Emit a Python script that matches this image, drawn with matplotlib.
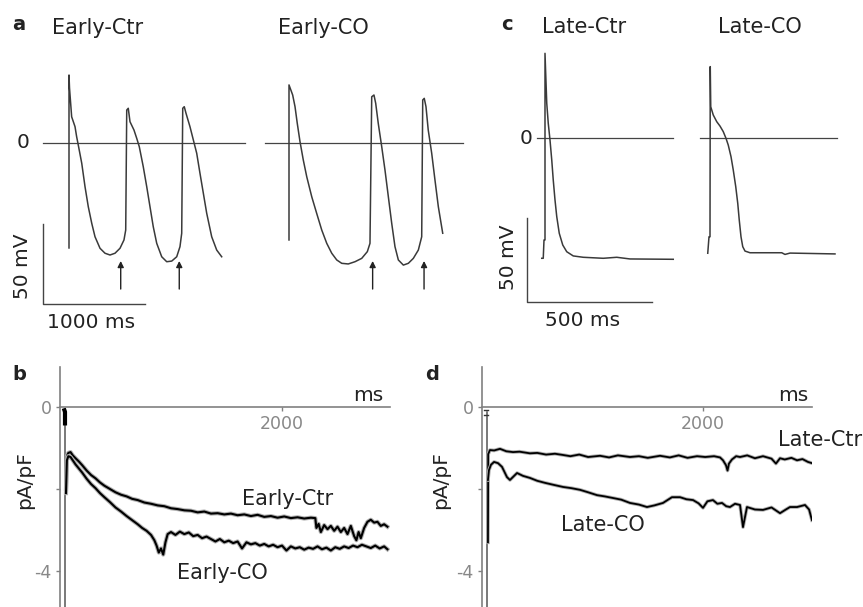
import matplotlib
matplotlib.use('Agg')
import matplotlib.pyplot as plt

W, H = 863, 607

# ---- panel a: action potentials, early (t in ms from upstroke, v in mV)
early_ctr_t = [0, 0, 5, 26, 59, 75, 91, 125, 157, 189, 223, 255, 304, 353, 402, 451, 500, 539, 556,
               566, 581, 598, 637, 664, 689, 728, 762, 794, 826, 860, 909, 958, 1007, 1056, 1088, 1105,
               1115, 1130, 1147, 1186, 1219, 1252, 1284, 1317, 1350, 1399, 1448, 1497]
early_ctr_v = [-65.6, 42.5, 34.4, 16.4, 10.2, 3.9, -1.3, -12.7, -27.3, -39.8, -50.2, -58.6, -65.8, -68.9,
               -70, -68.9, -65.8, -60.6, -54.4, 20.6, 21.7, 13.3, 8.1, 2.9, -2.3, -14.8, -27.3, -39.8,
               -52.3, -62.7, -71.1, -74.2, -73.8, -71.1, -64.8, -56.4, 21.7, 22.7, 18.6, 10.2, 1.9,
               -6.4, -18.9, -31.4, -43.9, -58.6, -66.9, -71.1]
early_co_t = [0, 0, 36, 59, 81, 108, 140, 174, 223, 272, 321, 370, 419, 468, 517, 581, 647, 713, 768,
              794, 811, 833, 850, 875, 909, 941, 974, 1007, 1039, 1072, 1121, 1170, 1219, 1268, 1301,
              1311, 1326, 1343, 1365, 1399, 1431, 1464, 1507]
early_co_v = [-60.6, 36.3, 30, 22.7, 12.3, 0.8, -10.6, -21.1, -33.6, -44.1, -54.4, -62.7, -68.9, -73.1,
              -75.2, -75.6, -74.2, -72.1, -67.9, -62.7, 28.9, 30, 24.8, 12.3, -2.3, -16.9, -33.6, -50.2,
              -64.8, -73.1, -76.3, -75.2, -72.1, -66.9, -58.6, 26.9, 27.9, 22.7, 8.1, -6.4, -23.1,
              -39.8, -56.4]
early_ctr_arrows = [507, 1081]
early_co_arrows = [820, 1324]

# ---- panel c: action potentials, late
late_ctr_t = [-13, -7, -4, 0, 0, 7, 13, 20, 27, 33, 40, 47, 57, 71, 87, 113, 153, 233, 287, 340, 513]
late_ctr_v = [-71.6, -71.6, -60.7, -60.7, 50.4, 20.7, 8.8, -1.2, -13.1, -25, -36.9, -46.8, -56.7,
              -63.7, -67.7, -70.2, -71, -71.6, -71, -72, -72.2]
late_co_t = [-9, -4, 0, 1, 3, 13, 27, 40, 53, 64, 73, 84, 93, 103, 111, 117, 124, 131, 140, 160, 233,
             287, 300, 320, 500]
late_co_v = [-68.6, -58.8, -58.8, 42.5, 18.6, 13.7, 9.7, 7.1, 3.8, -0.2, -4.2, -11.1, -19, -29, -38.9,
             -48.8, -58.8, -64.7, -67.3, -68.3, -68.3, -68.3, -69.3, -68.5, -69]

# ---- panel b: currents, early (t in ms, i in pA/pF)
b_ctr_t = [54, 62, 75, 95, 115, 140, 170, 200, 240, 280, 320, 360, 400, 450, 500, 550, 600, 650, 700,
           760, 820, 880, 940, 1000, 1060, 1120, 1180, 1240, 1300, 1360, 1420, 1480, 1540, 1600, 1660,
           1720, 1780, 1840, 1900, 1960, 2020, 2080, 2140, 2200, 2260, 2300, 2310, 2330, 2350, 2380,
           2410, 2440, 2470, 2500, 2530, 2560, 2590, 2620, 2650, 2670, 2690, 2710, 2740, 2770, 2800,
           2830, 2860, 2890, 2920, 2950]
b_ctr_i = [-2.0, -1.2, -1.12, -1.1, -1.18, -1.25, -1.33, -1.42, -1.55, -1.66, -1.74, -1.84, -1.92, -2.0,
           -2.08, -2.14, -2.18, -2.24, -2.27, -2.33, -2.36, -2.40, -2.42, -2.47, -2.49, -2.52, -2.53,
           -2.57, -2.55, -2.60, -2.59, -2.62, -2.60, -2.64, -2.62, -2.66, -2.63, -2.68, -2.66, -2.70,
           -2.67, -2.71, -2.69, -2.72, -2.70, -2.71, -2.95, -2.85, -3.05, -2.88, -2.98, -2.90, -3.02,
           -2.92, -3.05, -2.95, -3.10, -2.90, -3.15, -3.25, -3.05, -3.2, -2.95, -2.8, -2.75, -2.82,
           -2.80, -2.90, -2.86, -2.92]
b_co_t = [54, 62, 75, 95, 115, 140, 170, 200, 240, 280, 320, 360, 400, 450, 500, 550, 600, 650, 700,
          740, 780, 820, 850, 870, 890, 910, 930, 950, 970, 1000, 1040, 1080, 1120, 1160, 1200, 1240,
          1280, 1320, 1360, 1400, 1440, 1480, 1520, 1560, 1600, 1640, 1680, 1720, 1760, 1800, 1840,
          1880, 1920, 1960, 2000, 2040, 2080, 2120, 2160, 2200, 2240, 2280, 2320, 2360, 2400, 2440,
          2480, 2520, 2560, 2600, 2640, 2680, 2720, 2760, 2800, 2840, 2880, 2920, 2950]
b_co_i = [-2.1, -1.3, -1.2, -1.22, -1.3, -1.4, -1.5, -1.6, -1.75, -1.88, -1.98, -2.1, -2.2, -2.32,
          -2.45, -2.55, -2.66, -2.76, -2.86, -2.95, -3.02, -3.12, -3.25, -3.38, -3.55, -3.45, -3.6,
          -3.3, -3.1, -3.05, -3.12, -3.04, -3.1, -3.06, -3.15, -3.12, -3.2, -3.16, -3.22, -3.28,
          -3.22, -3.3, -3.26, -3.32, -3.28, -3.45, -3.3, -3.35, -3.32, -3.38, -3.34, -3.4, -3.36,
          -3.42, -3.38, -3.5, -3.4, -3.45, -3.42, -3.48, -3.43, -3.46, -3.4, -3.47, -3.43, -3.5,
          -3.42, -3.46, -3.4, -3.44, -3.38, -3.42, -3.36, -3.4, -3.44, -3.38, -3.45, -3.4, -3.47]

# ---- panel d: currents, late
d_ctr_t = [54, 56, 72, 110, 163, 220, 281, 340, 434, 500, 580, 660, 733, 800, 880, 960, 1068, 1150,
           1230, 1339, 1420, 1500, 1611, 1700, 1780, 1860, 1946, 2020, 2100, 2154, 2181, 2208, 2222,
           2235, 2262, 2300, 2335, 2400, 2470, 2543, 2620, 2660, 2697, 2740, 2800, 2851, 2900, 2950, 2986]
d_ctr_i = [-3.3, -1.15, -1.05, -1.06, -1.02, -1.08, -1.10, -1.09, -1.13, -1.12, -1.16, -1.14, -1.17,
           -1.2, -1.16, -1.22, -1.19, -1.23, -1.18, -1.22, -1.2, -1.24, -1.19, -1.23, -1.18, -1.24,
           -1.2, -1.22, -1.2, -1.23, -1.3, -1.42, -1.55, -1.38, -1.28, -1.2, -1.22, -1.18, -1.25,
           -1.2, -1.26, -1.38, -1.25, -1.28, -1.24, -1.3, -1.27, -1.34, -1.37]
d_co_t = [54, 63, 81, 109, 145, 181, 226, 253, 317, 371, 434, 500, 570, 650, 733, 810, 887, 960, 1041,
          1110, 1186, 1260, 1339, 1420, 1493, 1560, 1638, 1719, 1792, 1850, 1910, 1960, 2000, 2040,
          2090, 2130, 2172, 2210, 2244, 2290, 2335, 2362, 2398, 2470, 2543, 2620, 2697, 2750, 2787,
          2851, 2923, 2960, 2986]
d_co_i = [-1.78, -1.54, -1.41, -1.34, -1.37, -1.46, -1.71, -1.78, -1.61, -1.68, -1.73, -1.8, -1.85,
          -1.9, -1.95, -1.98, -2.02, -2.08, -2.15, -2.18, -2.22, -2.26, -2.34, -2.38, -2.44, -2.4,
          -2.34, -2.2, -2.2, -2.25, -2.27, -2.35, -2.46, -2.3, -2.27, -2.36, -2.34, -2.42, -2.44,
          -2.36, -2.39, -2.93, -2.44, -2.5, -2.51, -2.45, -2.59, -2.5, -2.44, -2.44, -2.39, -2.5, -2.76]

txt = '#222222'
trace = '#3a3a3a'
gray = '#808080'

fig = plt.figure(figsize=(W / 100, H / 100), dpi=100)


def overlay(x0, y0, sx, sy):
    # transparent axes over the whole figure, data origin at pixel (x0, y0)
    ax = fig.add_axes([0, 0, 1, 1])
    ax.set_xlim(-x0 / sx, (W - x0) / sx)
    ax.set_ylim((y0 - H) / sy, y0 / sy)
    ax.axis('off')
    ax.patch.set_alpha(0)
    return ax


def ftext(x, y, s, **kw):
    fig.text(x / W, 1 - y / H, s, color=txt, **kw)


# panel a
ax1 = overlay(69, 143, 0.102, 1.6)
ax1.plot([-255, 1725], [0, 0], color='#444444', lw=0.9)
ax1.plot(early_ctr_t, early_ctr_v, color=trace, lw=1.1)
for t in early_ctr_arrows:
    ax1.annotate('', xy=(t, -72), xytext=(t, -93),
                 arrowprops=dict(arrowstyle='-|>', color=txt, lw=1, mutation_scale=9))
ax1.plot([-255, -255, 745], [-50.6, -100.6, -100.6], color='#444444', lw=1)

ax2 = overlay(289, 143, 0.102, 1.6)
ax2.plot([-235, 1706], [0, 0], color='#444444', lw=0.9)
ax2.plot(early_co_t, early_co_v, color=trace, lw=1.1)
for t in early_co_arrows:
    ax2.annotate('', xy=(t, -72), xytext=(t, -93),
                 arrowprops=dict(arrowstyle='-|>', color=txt, lw=1, mutation_scale=9))

ftext(19, 25, 'a', fontsize=14, fontweight='bold', ha='center', va='center')
ftext(52, 28, 'Early-Ctr', fontsize=15, va='center')
ftext(278, 28, 'Early-CO', fontsize=15, va='center')
ftext(23, 143, '0', fontsize=14.5, ha='center', va='center')
ftext(22, 266, '50 mV', fontsize=14.5, rotation=90, ha='center', va='center')
ftext(91, 322, '1000 ms', fontsize=14.5, ha='center', va='center')

# panel c
ax3 = overlay(545, 138, 0.25, 1.68)
ax3.plot([-32, 512], [0, 0], color='#444444', lw=0.9)
ax3.plot(late_ctr_t, late_ctr_v, color=trace, lw=1.1)
ax3.plot([-72, -72, 428], [-47.6, -97.6, -97.6], color='#444444', lw=1)

ax4 = overlay(710, 138, 0.25, 1.68)
ax4.plot([-40, 508], [0, 0], color='#444444', lw=0.9)
ax4.plot(late_co_t, late_co_v, color=trace, lw=1.1)

ftext(507, 25, 'c', fontsize=14, fontweight='bold', ha='center', va='center')
ftext(542, 27, 'Late-Ctr', fontsize=15, va='center')
ftext(718, 27, 'Late-CO', fontsize=15, va='center')
ftext(526, 138, '0', fontsize=14.5, ha='center', va='center')
ftext(508, 257, '50 mV', fontsize=14.5, rotation=90, ha='center', va='center')
ftext(583, 320, '500 ms', fontsize=14.5, ha='center', va='center')


# panels b and d
def current_axes(left, right, sx, ms_right):
    ax = fig.add_axes([left / W, 0, (right - left) / W, (H - 367) / H])
    ax.set_xlim(0, (right - left) / sx)
    ax.set_ylim((407 - H) / 41, (407 - 367) / 41)
    ax.patch.set_alpha(0)
    for s in ['top', 'right']:
        ax.spines[s].set_visible(False)
    ax.spines['bottom'].set_position(('data', 0))
    for s in ['left', 'bottom']:
        ax.spines[s].set_color(gray)
        ax.spines[s].set_linewidth(1.2)
    ax.set_xticks([2000])
    ax.set_xticklabels(['2000'])
    ax.set_yticks([0, -2, -4])
    ax.set_yticklabels(['0', '', '-4'])
    ax.tick_params(colors=gray, labelcolor='#888888', labelsize=12.5, length=3, width=1, pad=3)
    ax.text((ms_right - left) / sx, 0.04, 'ms', fontsize=14.5, color=txt, ha='right', va='bottom')
    ax.plot([45, 45], [-0.12, -5.2], color='#555555', lw=1.1)
    return ax


axb = current_axes(60, 390, 0.111, 383)
axb.plot([40, 45, 45], [-0.08, -0.12, -0.4], color='black', lw=3)
for tt, ii in [(b_ctr_t, b_ctr_i), (b_co_t, b_co_i)]:
    axb.plot(tt, ii, color='#b0b0b0', lw=3.0, solid_joinstyle='round')
    axb.plot(tt, ii, color='black', lw=1.5)

axd = current_axes(482, 812, 0.1105, 808)
axd.plot([15, 52], [-0.08, -0.08], color='#333333', lw=1)
axd.plot([15, 52], [-0.2, -0.2], color='#333333', lw=1)
for tt, ii in [(d_ctr_t, d_ctr_i), (d_co_t, d_co_i)]:
    axd.plot(tt, ii, color='#b0b0b0', lw=2.6, solid_joinstyle='round')
    axd.plot(tt, ii, color='black', lw=1.3)

ftext(19, 375, 'b', fontsize=14, fontweight='bold', ha='center', va='center')
ftext(25, 480, 'pA/pF', fontsize=14.5, rotation=90, ha='center', va='center')
ftext(288, 499, 'Early-Ctr', fontsize=15, ha='center', va='center')
ftext(222, 573, 'Early-CO', fontsize=15, ha='center', va='center')

ftext(432, 375, 'd', fontsize=14, fontweight='bold', ha='center', va='center')
ftext(441, 480, 'pA/pF', fontsize=14.5, rotation=90, ha='center', va='center')
ftext(778, 440, 'Late-Ctr', fontsize=15, ha='left', va='center')
ftext(603, 525, 'Late-CO', fontsize=15, ha='center', va='center')

plt.savefig('out.png', dpi=100)
